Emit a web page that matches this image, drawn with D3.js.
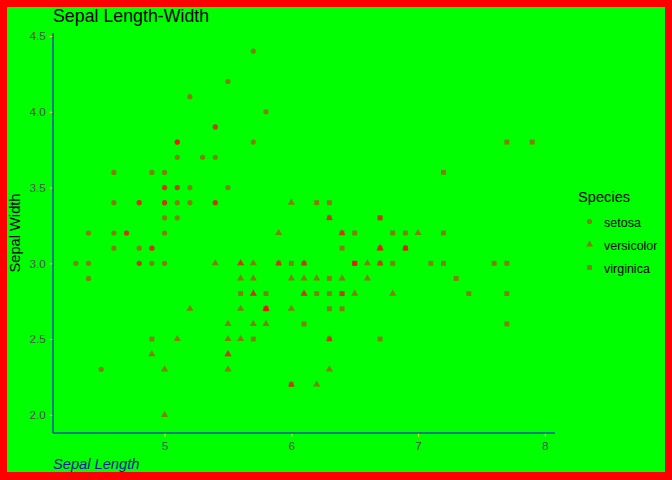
<!DOCTYPE html>
<html><head><meta charset="utf-8">
<script src="https://cdn.jsdelivr.net/npm/d3@7"></script>
<style>html,body{margin:0;padding:0;background:#fff}svg{display:block}text{font-family:"Liberation Sans",Arial,sans-serif}</style>
</head><body>
<script>
const species = ["setosa","versicolor","virginica"];
const setosaLength = [5.1,4.9,4.7,4.6,5.0,5.4,4.6,5.0,4.4,4.9,5.4,4.8,4.8,4.3,5.8,5.7,5.4,5.1,5.7,5.1,5.4,5.1,4.6,5.1,4.8,5.0,5.0,5.2,5.2,4.7,4.8,5.4,5.2,5.5,4.9,5.0,5.5,4.9,4.4,5.1,5.0,4.5,4.4,5.0,5.1,4.8,5.1,4.6,5.3,5.0];
const setosaWidth  = [3.5,3.0,3.2,3.1,3.6,3.9,3.4,3.4,2.9,3.1,3.7,3.4,3.0,3.0,4.0,4.4,3.9,3.5,3.8,3.8,3.4,3.7,3.6,3.3,3.4,3.0,3.4,3.5,3.4,3.2,3.1,3.4,4.1,4.2,3.1,3.2,3.5,3.6,3.0,3.4,3.5,2.3,3.2,3.5,3.8,3.0,3.8,3.2,3.7,3.3];
const versicolorLength = [7.0,6.4,6.9,5.5,6.5,5.7,6.3,4.9,6.6,5.2,5.0,5.9,6.0,6.1,5.6,6.7,5.6,5.8,6.2,5.6,5.9,6.1,6.3,6.1,6.4,6.6,6.8,6.7,6.0,5.7,5.5,5.5,5.8,6.0,5.4,6.0,6.7,6.3,5.6,5.5,5.5,6.1,5.8,5.0,5.6,5.7,5.7,6.2,5.1,5.7];
const versicolorWidth  = [3.2,3.2,3.1,2.3,2.8,2.8,3.3,2.4,2.9,2.7,2.0,3.0,2.2,2.9,2.9,3.1,3.0,2.7,2.2,2.5,3.2,2.8,2.5,2.8,2.9,3.0,2.8,3.0,2.9,2.6,2.4,2.4,2.7,2.7,3.0,3.4,3.1,2.3,3.0,2.5,2.6,3.0,2.6,2.3,2.7,3.0,2.9,2.9,2.5,2.8];
const virginicaLength = [6.3,5.8,7.1,6.3,6.5,7.6,4.9,7.3,6.7,7.2,6.5,6.4,6.8,5.7,5.8,6.4,6.5,7.7,7.7,6.0,6.9,5.6,7.7,6.3,6.7,7.2,6.2,6.1,6.4,7.2,7.4,7.9,6.4,6.3,6.1,7.7,6.3,6.4,6.0,6.9,6.7,6.9,5.8,6.8,6.7,6.7,6.3,6.5,6.2,5.9];
const virginicaWidth  = [3.3,2.7,3.0,2.9,3.0,3.0,2.5,2.9,2.5,3.6,3.2,2.7,3.0,2.5,2.8,3.2,3.0,3.8,2.6,2.2,3.2,2.8,2.8,2.7,3.3,3.2,2.8,3.0,2.8,3.0,2.8,3.8,2.8,2.8,2.6,3.0,3.4,3.1,3.0,3.1,3.1,3.1,2.7,3.2,3.3,3.0,2.5,3.0,3.4,3.0];
const xTicks = [5,6,7,8];
const yTicks = [2.0,2.5,3.0,3.5,4.0,4.5];

const W = 672, H = 480;
const svg = d3.select("body").append("svg").attr("width", W).attr("height", H);
svg.append("rect").attr("x",0).attr("y",0).attr("width",W).attr("height",H).attr("fill","#ff0000");
svg.append("rect").attr("x",7).attr("y",7).attr("width",658).attr("height",465).attr("fill","#00ff00");

const lengths = {setosa:setosaLength, versicolor:versicolorLength, virginica:virginicaLength};
const widths = {setosa:setosaWidth, versicolor:versicolorWidth, virginica:virginicaWidth};
const data = [];
species.forEach(s => lengths[s].forEach((v,i) => data.push({s, x:v, y:widths[s][i]})));

const xExt = d3.extent(data, d=>d.x), yExt = d3.extent(data, d=>d.y);
const xPad = (xExt[1]-xExt[0])*0.05, yPad = (yExt[1]-yExt[0])*0.05;
const x = d3.scaleLinear().domain([xExt[0]-xPad, xExt[1]+xPad]).range([53, 555]);
const y = d3.scaleLinear().domain([yExt[0]-yPad, yExt[1]+yPad]).range([433, 33]);

const shape = d3.scaleOrdinal().domain(species).range([d3.symbolCircle, d3.symbolTriangle, d3.symbolSquare]);
const size = d3.scaleOrdinal().domain(species).range([21, 22, 24]);

// axes
const gx = svg.append("g").attr("transform","translate(0,433)")
  .call(d3.axisBottom(x).tickValues(xTicks).tickFormat(d3.format("d")).tickSizeOuter(0).tickSize(3.7).tickPadding(4.5));
const gy = svg.append("g").attr("transform","translate(53,0)")
  .call(d3.axisLeft(y).tickValues(yTicks).tickFormat(d3.format(".1f")).tickSizeOuter(0).tickSize(3.7).tickPadding(3.5));
[gx, gy].forEach(g => {
  g.select(".domain").remove();
  g.selectAll(".tick line").attr("stroke","#ffff00").attr("stroke-width",1);
  g.selectAll(".tick text").attr("fill","#4d4d4d").style("font-size","11.7px").style("font-family","'Liberation Sans',Arial,sans-serif");
});
svg.append("line").attr("x1",53).attr("x2",53).attr("y1",33).attr("y2",433).attr("stroke","#0000ff").attr("stroke-width",1);
svg.append("line").attr("x1",53).attr("x2",555).attr("y1",433).attr("y2",433).attr("stroke","#0000ff").attr("stroke-width",1);

// points
svg.append("g").selectAll("path").data(data).join("path")
  .attr("transform", d => `translate(${x(d.x)},${y(d.y)})`)
  .attr("d", d => d3.symbol().type(shape(d.s)).size(size(d.s))())
  .attr("fill","#ff0000").attr("fill-opacity",0.5);

// titles
svg.append("text").attr("x",53).attr("y",22).style("font-size","17.8px").attr("fill","#000").text("Sepal Length-Width");
svg.append("text").attr("x",53).attr("y",469).style("font-size","14.67px").style("font-style","italic").attr("fill","#1414a0").text("Sepal Length");
svg.append("text").attr("transform","translate(20,233) rotate(-90)").attr("text-anchor","middle").style("font-size","14.67px").attr("fill","#000").text("Sepal Width");

// legend
const lg = svg.append("g");
lg.append("text").attr("x",578).attr("y",202).style("font-size","14.67px").attr("fill","#000").text("Species");
species.forEach((s,i) => {
  const cy = 221.5 + i*23;
  lg.append("path").attr("transform",`translate(589.5,${cy})`)
    .attr("d", d3.symbol().type(shape(s)).size(size(s))())
    .attr("fill","#ff0000").attr("fill-opacity",0.5);
  lg.append("text").attr("x",604).attr("y",cy+5).style("font-size","12.5px").attr("fill","#000").text(s);
});
</script>
</body></html>
